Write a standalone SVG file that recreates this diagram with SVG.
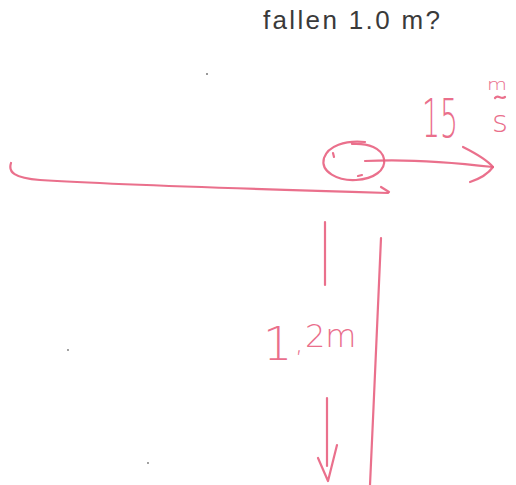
<svg xmlns="http://www.w3.org/2000/svg" width="516" height="485" viewBox="0 0 516 485">
<style>
.ink{fill:none;stroke:#e8607f;stroke-width:2.2;stroke-linecap:round;stroke-linejoin:round;opacity:0.9}
.hand{fill:#e8607f;font-family:"DejaVu Sans","Liberation Sans",sans-serif;font-weight:200;opacity:0.9}
.title{fill:#3a3a3a;font-family:"Liberation Sans",Arial,sans-serif;font-size:26px}
.speck{fill:#777}
</style>
<rect width="516" height="485" fill="#fff"/>
<text class="title" x="263" y="29" textLength="177" lengthAdjust="spacing">fallen 1.0 m?</text>
<g id="specks">
<circle class="speck" cx="207" cy="74" r="1"/>
<circle class="speck" cx="68" cy="350" r="0.9"/>
<circle class="speck" cx="148" cy="463" r="0.9"/>
</g>
<g id="ground">
<path class="ink" d="M11 163 C8 172,14 178,40 180 C120 185,250 189,388 193"/>
<path class="ink" d="M381 187 L389 192"/>
</g>
<g id="ball">
<path class="ink" d="M365 142 C345 140,328 146,324 158 C320 172,338 181,356 180 C374 179,386 170,384 159 C382 148,368 143,352 144"/>
<path class="ink" d="M333 153 L334 157" stroke-width="1.2"/>
<path class="ink" d="M358 176 L362 175" stroke-width="1.5"/>
</g>
<g id="connectors">
<g id="velocity">
<path class="ink" d="M365 161 C400 159,450 162,493 167"/>
<path class="ink" d="M463 147 C475 153,487 160,493 167 C488 174,479 179,470 182"/>
</g>
<g id="height">
<path class="ink" d="M325 222 L325 285"/>
<path class="ink" d="M327 398 L327 466"/>
<path class="ink" d="M318 458 L328 481 L337 445"/>
<path class="ink" d="M381 238 C378 300,374 400,370 485"/>
</g>
</g>
<g id="labels">
<text class="hand" x="422" y="137" font-size="54" textLength="36" lengthAdjust="spacingAndGlyphs">15</text>
<text class="hand" x="487" y="90" font-size="15" textLength="20" lengthAdjust="spacingAndGlyphs">m</text>
<path class="ink" d="M495 98 C498 94,501 100,505 97" stroke-width="1.6"/>
<text class="hand" x="492" y="132" font-size="30" textLength="16" lengthAdjust="spacingAndGlyphs">s</text>
<text class="hand"><tspan x="263" y="360" font-size="46">1</tspan><tspan x="295" y="352" font-size="26">,</tspan><tspan x="305" y="347" font-size="32">2m</tspan></text>
</g>
</svg>
